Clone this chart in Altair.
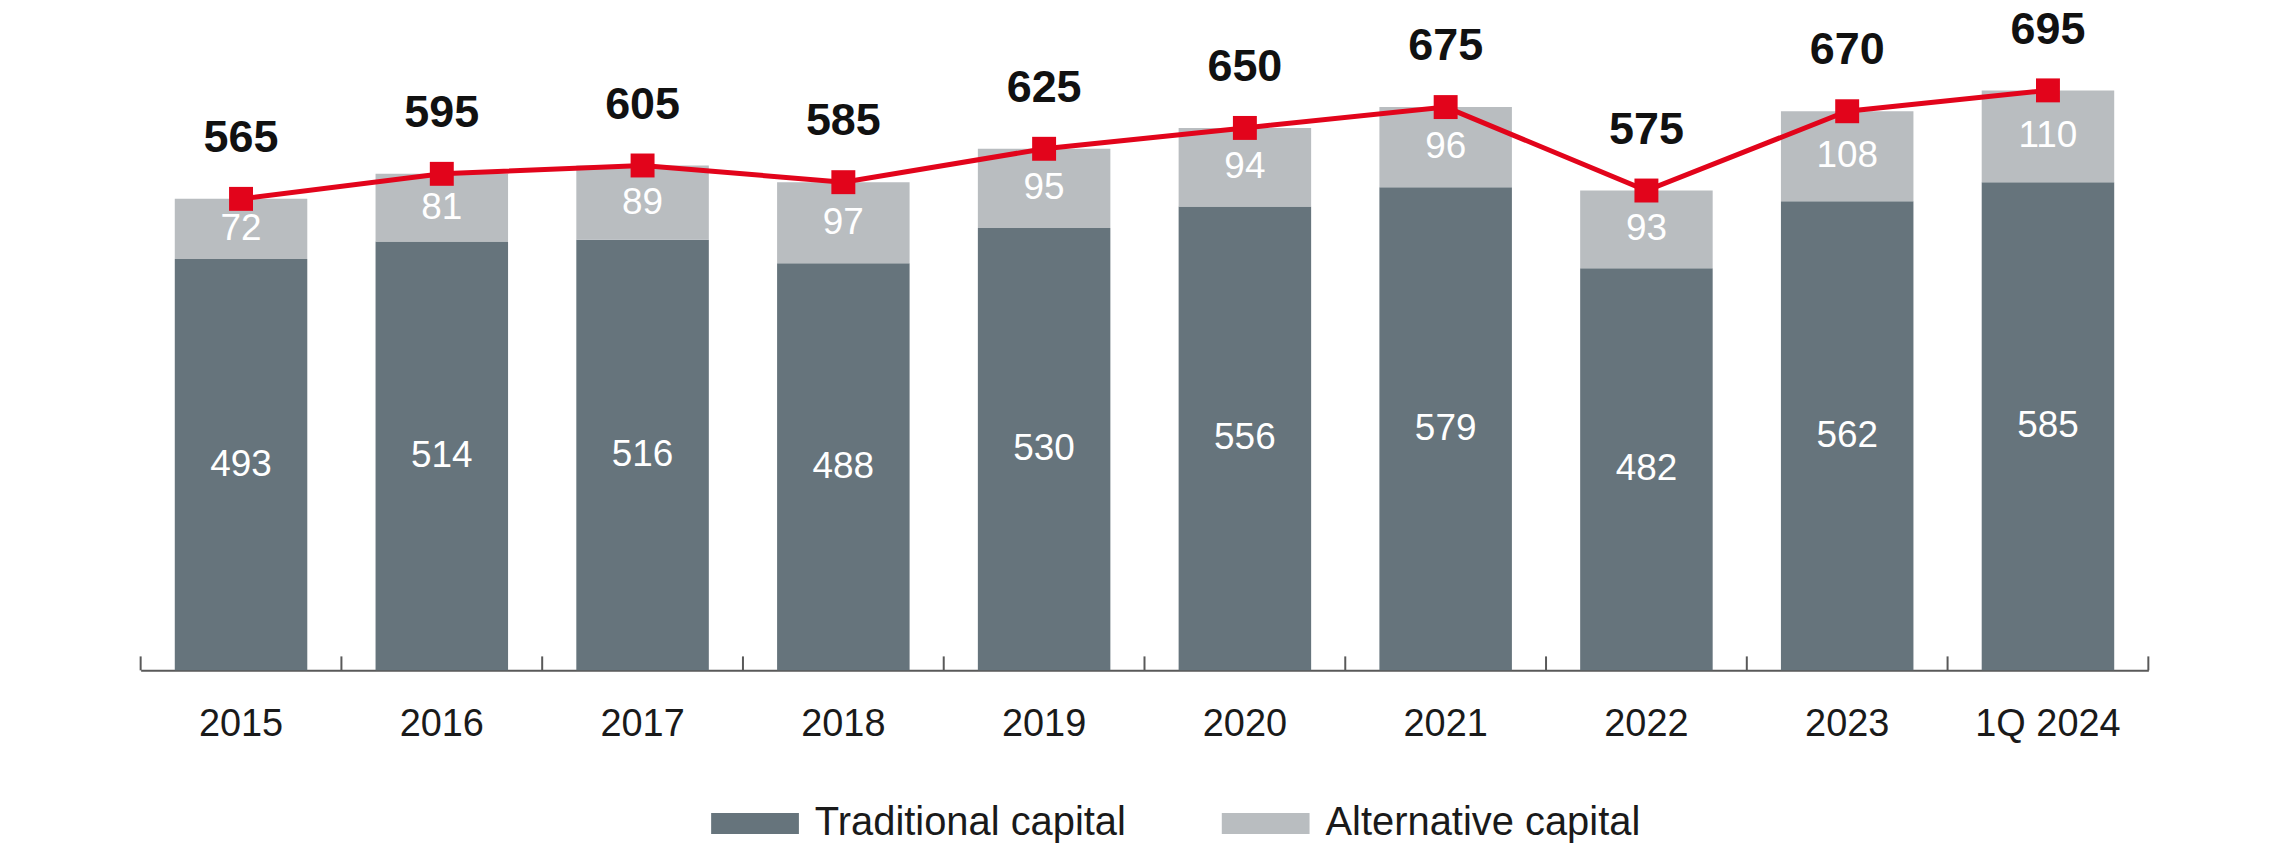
import altair as alt
import pandas as pd

categories = ["2015", "2016", "2017", "2018", "2019", "2020", "2021", "2022", "2023", "1Q 2024"]
traditional = [493, 514, 516, 488, 530, 556, 579, 482, 562, 585]
alternative = [72, 81, 89, 97, 95, 94, 96, 93, 108, 110]
totals = [565, 595, 605, 585, 625, 650, 675, 575, 670, 695]
series = ["Traditional capital", "Alternative capital"]

TRAD = "#66747c"
ALT = "#b9bdc0"
RED = "#e2041b"
AXIS = "#595959"
FONT = "Liberation Sans"
W = 2013
H = 661

rows = []
for c, t, a in zip(categories, traditional, alternative):
    rows.append(dict(cat=c, series=series[0], value=t, ord=0, mid=t / 2))
    rows.append(dict(cat=c, series=series[1], value=a, ord=1, mid=t + a / 2))
bars_df = pd.DataFrame(rows)
tot_df = pd.DataFrame(dict(cat=categories, total=totals))
tick_df = pd.DataFrame(dict(b=list(range(len(categories) + 1))))

xscale = alt.Scale(paddingInner=0.34, paddingOuter=0.17)
yscale = alt.Scale(domain=[0, 790], nice=False)

x_axis = alt.X(
    "cat:N", sort=categories, title=None, scale=xscale,
    axis=alt.Axis(labelAngle=0, ticks=False, domain=True, domainColor=AXIS,
                  domainWidth=2, labelFont=FONT, labelFontSize=38,
                  labelColor="#1a1a1a", labelPadding=35, grid=False),
)
x_plain = alt.X("cat:N", sort=categories, title=None, scale=xscale)

bars = alt.Chart(bars_df).mark_bar().encode(
    x=x_axis,
    y=alt.Y("value:Q", stack="zero", scale=yscale, axis=None),
    color=alt.Color(
        "series:N", sort=series,
        scale=alt.Scale(domain=series, range=[TRAD, ALT]),
        legend=alt.Legend(
            title=None, orient="none", legendX=594, legendY=792.5,
            direction="horizontal", symbolType="M-2,-0.48H2V0.48H-2Z",
            symbolSize=1936, symbolStrokeWidth=0, labelFont=FONT,
            labelFontSize=40, labelColor="#1a1a1a", labelOffset=38,
            labelLimit=1000, columnPadding=95, padding=0, offset=0,
        ),
    ),
    order=alt.Order("ord:Q"),
)

seg_labels = alt.Chart(bars_df).mark_text(
    color="white", fontSize=37, font=FONT, baseline="middle"
).encode(
    x=x_plain,
    y=alt.Y("mid:Q", scale=yscale, axis=None),
    text=alt.Text("value:Q"),
)

line = alt.Chart(tot_df).mark_line(
    color=RED, strokeWidth=5,
    point=alt.OverlayMarkDef(shape="square", size=576, filled=True, color=RED),
).encode(
    x=x_plain,
    y=alt.Y("total:Q", scale=yscale, axis=None),
)

tot_labels = alt.Chart(tot_df).mark_text(
    dy=-61, baseline="middle", fontSize=45, fontWeight="bold", font=FONT, color="#111111"
).encode(
    x=x_plain,
    y=alt.Y("total:Q", scale=yscale, axis=None),
    text=alt.Text("total:Q"),
)

ticks = alt.Chart(tick_df).mark_rule(color=AXIS, strokeWidth=2).encode(
    x=alt.X("b:Q", scale=alt.Scale(domain=[0, len(categories)], nice=False, zero=False), axis=None),
    y=alt.value(H),
    y2=alt.value(H - 14),
)

main = alt.layer(bars, seg_labels, line, tot_labels)

chart = alt.layer(main, ticks).resolve_scale(x="independent").properties(
    width=W, height=H,
    autosize=alt.AutoSizeParams(type="none"),
    padding={"left": 133, "top": 2, "right": 130, "bottom": 180},
).configure_view(stroke=None)

chart.save("out.html", embed_options={"renderer": "svg", "actions": False})
